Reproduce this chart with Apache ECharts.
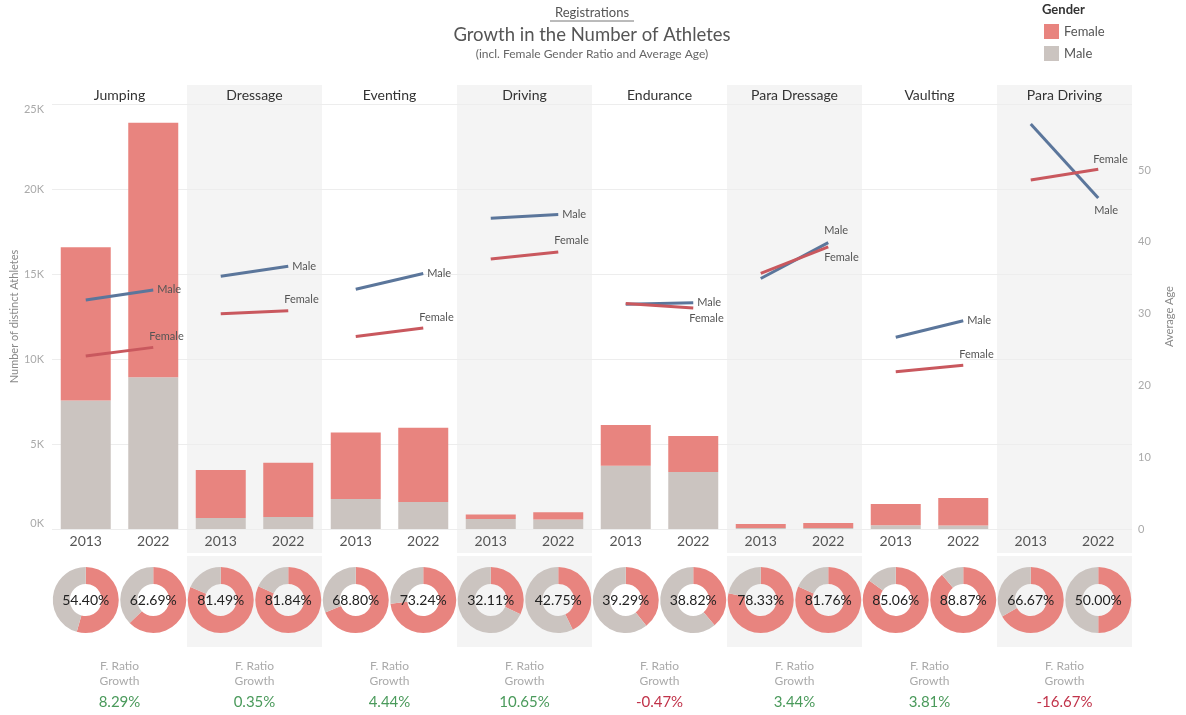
<!DOCTYPE html>
<html><head><meta charset="utf-8">
<script src="https://cdn.jsdelivr.net/npm/echarts@6/dist/echarts.min.js"></script>
<style>html,body{margin:0;padding:0;background:#fff}#c{width:1186px;height:715px}</style>
</head><body><div id="c"></div>
<script>
// ---- data ----
const disciplines = ['Jumping','Dressage','Eventing','Driving','Endurance','Para Dressage','Vaulting','Para Driving'];
const years = ['2013','2022'];
const femaleCount = [[9010,14980],[2830,3190],[3900,4365],[276,419],[2405,2123],[235,287],[1250,1617],[2,1]];
const maleCount   = [[7560,8920],[643,708],[1770,1595],[584,561],[3716,3346],[65,64],[220,203],[1,1]];
const femaleAge = [[24.1,25.3],[30.0,30.4],[26.8,28.0],[37.6,38.6],[31.4,30.8],[35.6,39.3],[21.9,22.8],[48.6,50.1]];
const maleAge   = [[31.9,33.3],[35.2,36.6],[33.4,35.6],[43.3,43.8],[31.3,31.5],[34.9,39.9],[26.7,29.0],[56.4,46.1]];
const femaleRatio = [[54.40,62.69],[81.49,81.84],[68.80,73.24],[32.11,42.75],[39.29,38.82],[78.33,81.76],[85.06,88.87],[66.67,50.00]];
const ratioGrowth = [8.29,0.35,4.44,10.65,-0.47,3.44,3.81,-16.67];
const countTicks = {min:0, max:25000, interval:5000};
const ageTicks = {min:0, max:59.2, interval:10};

// ---- layout / style ----
const FONT = 'Lato';
const C_F = '#e8847f', C_M = '#cbc4c0', L_F = '#c9585e', L_M = '#5b769b';
const PL = 52, PW = 135, PT = 104, PH = 425;
const labelOff = { // [male offset], [female offset] for line end labels
  male:   [[0,0],[0,0],[0,0],[0,0],[0,0],[-8,-12],[0,0],[-8,12]],
  female: [[-8,-11],[-8,-11],[-8,-11],[-8,-11],[-8,11],[-8,11],[-8,-11],[-9,-10]]
};

const grid = [], xAxis = [], yAxis = [], series = [], graphic = [];
function txt(text, x, y, size, fill, weight){
  return {type:'text', z:10, silent:true, style:{text, x, y, fill, font:(weight||'normal')+' '+size+'px '+FONT,
    align:'center', verticalAlign:'middle', textAlign:'center', textVerticalAlign:'middle'}};
}

disciplines.forEach((d,i)=>{
  const left = PL + PW*i;
  if (i % 2 === 1) {
    graphic.push({type:'rect', z:-100, silent:true, shape:{x:left, y:85, width:PW, height:468}, style:{fill:'#f4f4f4'}});
    graphic.push({type:'rect', z:-100, silent:true, shape:{x:left, y:556, width:PW, height:91}, style:{fill:'#f4f4f4'}});
  }
  graphic.push(txt(d, left+PW/2, 95, 14, '#333'));
  graphic.push(txt('F. Ratio', left+PW/2, 666, 12, '#aaa'));
  graphic.push(txt('Growth', left+PW/2, 681, 12, '#aaa'));
  const g = ratioGrowth[i];
  graphic.push(txt(g.toFixed(2)+'%', left+PW/2, 702, 15, g>=0 ? '#4a9a5b' : '#c1334a'));

  grid.push({left:left, top:PT, width:PW, height:PH});
  xAxis.push({gridIndex:i, type:'category', data:years, boundaryGap:true,
    axisLine:{show:false}, axisTick:{show:false},
    axisLabel:{color:'#555', fontSize:14, margin:5, fontFamily:FONT}});
  yAxis.push({gridIndex:i, type:'value', min:countTicks.min, max:countTicks.max, interval:countTicks.interval,
    position:'left', axisLine:{show:false}, axisTick:{show:false},
    splitLine:{show:true, lineStyle:{color:'#ededed', width:1}},
    axisLabel:{show:i===0, color:'#aaa', fontSize:11, margin:8, fontFamily:FONT,
      formatter:v=>(v/1000)+'K', verticalAlignMinLabel:'bottom', verticalAlignMaxLabel:'top'},
    name: i===0 ? 'Number of distinct Athletes' : '', nameLocation:'middle', nameGap:31, nameRotate:90,
    nameTextStyle:{color:'#888', fontSize:11, fontFamily:FONT}});
  yAxis.push({gridIndex:i, type:'value', min:ageTicks.min, max:ageTicks.max, interval:ageTicks.interval,
    position:'right', axisLine:{show:false}, axisTick:{show:false}, splitLine:{show:false},
    axisLabel:{show:i===7, color:'#aaa', fontSize:11, margin:6, fontFamily:FONT, showMaxLabel:false},
    name: i===7 ? 'Average Age' : '', nameLocation:'middle', nameGap:32, nameRotate:90,
    nameTextStyle:{color:'#888', fontSize:11, fontFamily:FONT}});

  series.push({type:'bar', name:'Male', xAxisIndex:i, yAxisIndex:2*i, stack:'s'+i, barWidth:50,
    data:maleCount[i], itemStyle:{color:C_M}, silent:true});
  series.push({type:'bar', name:'Female', xAxisIndex:i, yAxisIndex:2*i, stack:'s'+i, barWidth:50,
    data:femaleCount[i], itemStyle:{color:C_F}, silent:true});
  const mkLine = (nm, vals, col, off) => ({type:'line', name:nm+' age', xAxisIndex:i, yAxisIndex:2*i+1,
    symbol:'circle', symbolSize:0, showSymbol:true, silent:true, z:5,
    lineStyle:{color:col, width:3}, itemStyle:{color:col},
    data:[vals[0], {value:vals[1], label:{show:true, position:'right', distance:4, offset:off,
      formatter:nm, color:'#555', fontSize:11, fontFamily:FONT}}]});
  series.push(mkLine('Male', maleAge[i], L_M, labelOff.male[i]));
  series.push(mkLine('Female', femaleAge[i], L_F, labelOff.female[i]));

  years.forEach((y,j)=>{
    const r = femaleRatio[i][j];
    series.push({type:'pie', silent:true, center:[left+PW/4+PW/2*j, 600], radius:[16,33],
      startAngle:90, clockwise:true, labelLine:{show:false},
      data:[
        {value:r, name:'Female', itemStyle:{color:C_F},
          label:{show:true, position:'center', formatter:r.toFixed(2)+'%', color:'#222', fontSize:14, fontFamily:FONT}},
        {value:100-r, name:'Male', itemStyle:{color:C_M}, label:{show:false}}
      ]});
  });
});

// titles
graphic.push(txt('Registrations', 592, 13, 13, '#555'));
graphic.push({type:'line', z:10, silent:true, shape:{x1:550, y1:21, x2:634, y2:21}, style:{stroke:'#777', lineWidth:1}});
graphic.push(txt('Growth in the Number of Athletes', 592, 35, 18.5, '#555'));
graphic.push(txt('(incl. Female Gender Ratio and Average Age)', 592, 54, 12, '#666'));
graphic.push({type:'text', z:10, silent:true, style:{text:'Gender', x:1042, y:10, fill:'#333',
  font:'bold 13px '+FONT, align:'left', verticalAlign:'middle', textAlign:'left', textVerticalAlign:'middle'}});

const chart = echarts.init(document.getElementById('c'), null, {renderer:'canvas'});
chart.setOption({
  animation:false,
  textStyle:{fontFamily:FONT},
  legend:{data:[{name:'Female', icon:'rect'},{name:'Male', icon:'rect'}], orient:'vertical', left:1039, top:19,
    itemWidth:15, itemHeight:15, itemGap:7, selectedMode:false,
    textStyle:{color:'#555', fontSize:13, fontFamily:FONT}},
  grid, xAxis, yAxis, series, graphic
});
</script></body></html>
